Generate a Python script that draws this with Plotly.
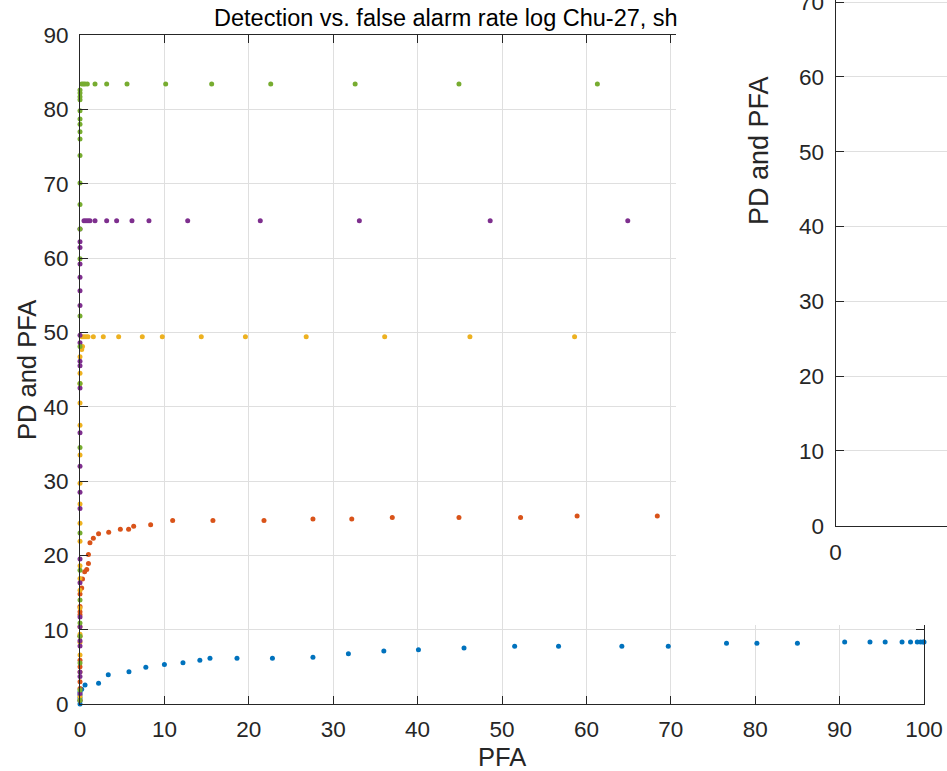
import plotly.graph_objects as go

W, H = 947, 771

# ---------------- data ----------------
blue_x = [0, 0, 0, 0, 0, 0.2, 0.6, 2.2, 3.35, 5.8, 7.8, 10.0, 12.2, 14.2, 15.4, 18.6, 22.8, 27.6, 31.8, 36.0,
          40.1, 45.5, 51.5, 56.7, 64.2, 69.7, 76.6, 80.2, 85.0, 90.6, 93.6, 95.4, 97.4, 98.4, 99.2, 99.6, 99.9, 100]
blue_y = [0, 0.4, 0.8, 1.2, 1.6, 1.98, 2.56, 2.78, 3.95, 4.35, 4.93, 5.3, 5.56, 5.9, 6.14, 6.14, 6.14, 6.3, 6.77, 7.13,
          7.3, 7.53, 7.76, 7.76, 7.76, 7.76, 8.16, 8.16, 8.16, 8.34, 8.34, 8.34, 8.34, 8.34, 8.34, 8.34, 8.34, 8.34]

orange_x = [0, 0, 0, 0, 0, 0, 0, 0, 0, 0, 0.2, 0.3, 0.55, 0.8, 1.0, 1.0, 1.18, 1.58, 2.2, 3.4, 4.78, 5.76, 6.36,
            8.37, 10.98, 15.75, 21.8, 27.6, 32.2, 37.0, 44.9, 52.2, 58.9, 68.4]
orange_y = [0.5, 2.1, 3.0, 5.0, 5.9, 9.1, 12.0, 12.4, 13.1, 14.8, 15.6, 16.8, 17.8, 18.1, 18.9, 20.1, 21.7, 22.3,
            22.9, 23.1, 23.5, 23.5, 23.9, 24.1, 24.7, 24.7, 24.7, 24.9, 24.9, 25.1, 25.1, 25.1, 25.3, 25.3]

yellow_x = [0, 0, 0, 0, 0, 0, 0, 0, 0, 0, 0, 0, 0, 0, 0, 0, 0, 0, 0, 0, 0.2, 0.3, 0.24, 0.47, 0.71, 0.95, 1.58,
            2.76, 4.58, 7.38, 9.75, 14.37, 19.6, 26.8, 36.1, 46.2, 58.6]
yellow_y = [1.0, 4.3, 6.6, 8.3, 9.4, 10.4, 12.9, 15.3, 16.9, 18.6, 21.9, 24.3, 26.9, 29.7, 33.5, 37.5, 40.5, 43.1,
            44.5, 46.7, 47.7, 48.1, 49.4, 49.4, 49.4, 49.4, 49.4, 49.4, 49.4, 49.4, 49.4, 49.4, 49.4, 49.4, 49.4,
            49.4, 49.4]

purple_x = [0, 0, 0, 0, 0, 0, 0, 0, 0, 0, 0, 0, 0, 0, 0, 0, 0, 0, 0, 0, 0, 0, 0, 0, 0, 0.47, 0.71, 0.95, 1.18,
            1.78, 3.16, 4.34, 6.16, 8.17, 12.76, 21.36, 33.1, 48.6, 64.9]
purple_y = [1.4, 3.7, 4.3, 7.8, 8.5, 10.4, 11.7, 16.3, 19.5, 26.3, 28.5, 32.0, 36.5, 42.5, 45.5, 46.1, 48.6, 49.6,
            53.6, 55.6, 57.4, 59.2, 61.4, 62.2, 63.9, 65.0, 65.0, 65.0, 65.0, 65.0, 65.0, 65.0, 65.0, 65.0, 65.0,
            65.0, 65.0, 65.0, 65.0]

green_x = [0, 0, 0, 0, 0, 0, 0, 0, 0, 0, 0, 0, 0, 0, 0, 0, 0, 0, 0, 0, 0, 0, 0, 0, 0, 0, 0.2, 0.4, 0.6, 0.87,
           1.78, 3.16, 5.57, 10.15, 15.6, 22.6, 32.6, 44.9, 61.3]
green_y = [0.5, 1.9, 5.5, 9.1, 10.9, 14.0, 18.0, 23.0, 34.5, 43.1, 48.1, 52.2, 59.9, 63.9, 67.2, 70.1, 73.8, 76.0,
           77.0, 78.0, 78.7, 79.8, 81.3, 81.7, 82.2, 82.6, 83.4, 83.4, 83.4, 83.4, 83.4, 83.4, 83.4, 83.4, 83.4,
           83.4, 83.4, 83.4, 83.4]

x_ticks = [0, 10, 20, 30, 40, 50, 60, 70, 80, 90, 100]
y_ticks = [0, 10, 20, 30, 40, 50, 60, 70, 80, 90]
y2_ticks = [0, 10, 20, 30, 40, 50, 60, 70]

title_text = "Detection vs. false alarm rate log Chu-27, sh"
xlabel = "PFA"
ylabel = "PD and PFA"

# ---------------- styling ----------------
FONT = "Liberation Sans, Arial, Helvetica, sans-serif"
TXT = "#262626"
GRID = "#dfdfdf"
colors = ["#0072BD", "#D95319", "#EDB120", "#7E2F8E", "#77AC30"]
TICK_FS = 22.5
TITLE_FS = 23.5
LAB_FS = 25.5
LAB2_FS = 27


def px(x):
    return x / W


def py(y):
    return 1 - y / H


fig = go.Figure()
series = [(blue_x, blue_y), (orange_x, orange_y), (yellow_x, yellow_y), (purple_x, purple_y), (green_x, green_y)]
for (xs, ys), c in zip(series, colors):
    fig.add_trace(go.Scatter(x=xs, y=ys, mode="markers", marker=dict(size=5, color=c),
                             xaxis="x", yaxis="y", showlegend=False, cliponaxis=False))

# empty traces so the cover panel and the second axes exist
fig.add_trace(go.Scatter(x=[], y=[], xaxis="x2", yaxis="y2", showlegend=False))
fig.add_trace(go.Scatter(x=[], y=[], xaxis="x3", yaxis="y3", showlegend=False))

axis_common = dict(showline=True, linecolor=TXT, linewidth=1, ticks="inside", ticklen=8,
                   tickcolor=TXT, tickwidth=1, gridcolor=GRID, gridwidth=1, zeroline=False,
                   automargin=False, tickfont=dict(family=FONT, size=TICK_FS, color=TXT))

fig.update_layout(
    width=W, height=H, margin=dict(l=0, r=0, t=0, b=0, pad=0, autoexpand=False),
    paper_bgcolor="white", plot_bgcolor="white", showlegend=False,
    xaxis=dict(domain=[px(80), px(924)], range=[0, 100], tickvals=x_ticks, mirror="allticks",
               anchor="y", showgrid=True, ticklabelstandoff=5, **axis_common),
    yaxis=dict(domain=[py(704), py(35)], range=[0, 90], tickvals=y_ticks, mirror="allticks",
               anchor="x", showgrid=True, ticklabelstandoff=6, **axis_common),
    # white panel that hides the upper-right part of the first axes
    xaxis2=dict(domain=[px(676), 1], range=[0, 1], visible=False, anchor="y2", automargin=False),
    yaxis2=dict(domain=[py(625), 1], range=[0, 1], visible=False, anchor="x2", automargin=False),
    # second axes, mostly outside the window
    xaxis3=dict(domain=[px(835.5), 1], range=[0, 1], tickvals=[0], showgrid=False, anchor="y3",
                ticklabelstandoff=6, ticklabeloverflow="allow", **axis_common),
    yaxis3=dict(domain=[py(525.7), 1], range=[0, 70.27], tickvals=y2_ticks, showgrid=True, anchor="x3",
                ticklabelstandoff=6, ticklabeloverflow="allow", **axis_common),
    annotations=[
        dict(text=title_text, x=px(212), y=py(18), xref="paper", yref="paper", xanchor="left",
             yanchor="middle", showarrow=False, font=dict(family=FONT, size=TITLE_FS, color="#000000")),
        dict(text=xlabel, x=px(502), y=py(757), xref="paper", yref="paper", xanchor="center",
             yanchor="middle", showarrow=False, font=dict(family=FONT, size=LAB_FS, color=TXT)),
        dict(text=ylabel, x=px(27), y=py(370), xref="paper", yref="paper", xanchor="center",
             yanchor="middle", textangle=-90, showarrow=False, font=dict(family=FONT, size=LAB_FS, color=TXT)),
        dict(text=ylabel, x=px(759), y=py(151), xref="paper", yref="paper", xanchor="center",
             yanchor="middle", textangle=-90, showarrow=False, font=dict(family=FONT, size=LAB2_FS, color=TXT)),
    ],
)

fig.write_html("out.html")
